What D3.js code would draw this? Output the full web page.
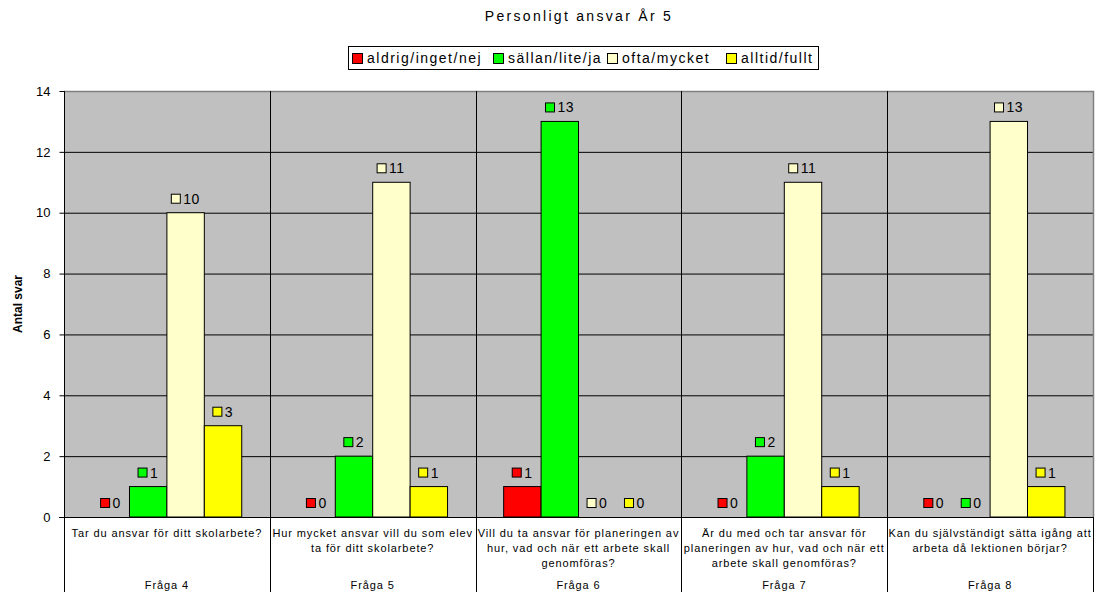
<!DOCTYPE html>
<html><head><meta charset="utf-8">
<script src="https://cdn.jsdelivr.net/npm/d3@7/dist/d3.min.js"></script>
<style>body{margin:0;background:#fff;}svg{display:block;font-family:"Liberation Sans",Arial,sans-serif;}</style>
</head><body><svg id="c" width="1096" height="592"></svg>
<script>
const title = "Personligt ansvar År 5";
const yTitle = "Antal svar";
const categories = ["Fråga 4","Fråga 5","Fråga 6","Fråga 7","Fråga 8"];
const questions = [
  ["Tar du ansvar för ditt skolarbete?"],
  ["Hur mycket ansvar vill du som elev","ta för ditt skolarbete?"],
  ["Vill du ta ansvar för planeringen av","hur, vad och när ett arbete skall","genomföras?"],
  ["Är du med och tar ansvar för","planeringen av hur, vad och när ett","arbete skall genomföras?"],
  ["Kan du självständigt sätta igång att","arbeta då lektionen börjar?"]
];
const seriesNames = ["aldrig/inget/nej","sällan/lite/ja","ofta/mycket","alltid/fullt"];
const seriesColors = ["#ff0000","#00ff00","#ffffcc","#ffff00"];
const aldrig = [0,0,1,0,0];
const sallan = [1,2,13,2,0];
const ofta = [10,11,0,11,13];
const alltid = [3,1,0,1,1];
const yTicks = [0,2,4,6,8,10,12,14];

const values = [aldrig,sallan,ofta,alltid];
const svg = d3.select("#c");
const L=64, R=1093, T=91, B=517;

const x0 = d3.scaleBand().domain(categories).range([L,R]);
const innerPad = x0.bandwidth()*(1.5/5.5)/2;
const x1 = d3.scaleBand().domain(seriesNames).range([innerPad, x0.bandwidth()-innerPad]);
const y = d3.scaleLinear().domain([0,14]).range([B,T]);

// plot bg
svg.append("rect").attr("x",L).attr("y",T).attr("width",R-L).attr("height",B-T).attr("fill","#c0c0c0");
// gridlines
svg.append("g").selectAll("line").data(yTicks.filter(d=>d>0&&d<14)).join("line")
  .attr("x1",L).attr("x2",R).attr("y1",d=>y(d)+0.5).attr("y2",d=>y(d)+0.5).attr("stroke","#000").attr("stroke-width",1);
// border top/right gray
svg.append("path").attr("d",`M${L},${T+0.5}H${R+0.5}V${B}`).attr("fill","none").attr("stroke","#808080").attr("stroke-width",1.5);
// vertical category separators
svg.append("g").selectAll("line").data(categories.slice(1)).join("line")
  .attr("x1",d=>Math.round(x0(d))+0.5).attr("x2",d=>Math.round(x0(d))+0.5).attr("y1",T).attr("y2",592)
  .attr("stroke","#000");
svg.append("line").attr("x1",R+0.5).attr("x2",R+0.5).attr("y1",B).attr("y2",592).attr("stroke","#000");

// bars
const flat=[];
categories.forEach((c,i)=>seriesNames.forEach((s,j)=>flat.push({c,s,j,v:values[j][i]})));
svg.append("g").selectAll("rect").data(flat.filter(d=>d.v>0)).join("rect")
  .attr("x",d=>x0(d.c)+x1(d.s)).attr("width",x1.bandwidth())
  .attr("y",d=>y(d.v)).attr("height",d=>B-y(d.v))
  .attr("fill",d=>seriesColors[d.j]).attr("stroke","#000").attr("stroke-width",1);

// data labels
const lg = svg.append("g").selectAll("g").data(flat).join("g")
  .attr("transform",d=>`translate(${x0(d.c)+x1(d.s)+x1.bandwidth()/2},${y(d.v)-14})`);
lg.each(function(d){
  const g=d3.select(this);
  const t=String(d.v);
  const tw = t.length*8.3;
  const w = 9+3+tw;
  g.append("rect").attr("x",-w/2).attr("y",-4.5).attr("width",9).attr("height",9)
    .attr("fill",seriesColors[d.j]).attr("stroke","#000").attr("stroke-width",1);
  g.append("text").attr("x",-w/2+12).attr("y",5).attr("font-size",14).attr("letter-spacing",0.5).attr("fill","#000").text(t);
});

// axes
svg.append("line").attr("x1",L+0.5).attr("x2",L+0.5).attr("y1",T).attr("y2",592).attr("stroke","#000");
svg.append("line").attr("x1",L-5).attr("x2",R).attr("y1",B+0.5).attr("y2",B+0.5).attr("stroke","#000");
const yAxis = svg.append("g").attr("transform",`translate(${L+0.5},0)`)
  .call(d3.axisLeft(y).tickValues(yTicks).tickSize(5).tickFormat(d3.format("d")));
yAxis.select(".domain").remove();
yAxis.selectAll("line").attr("stroke","#000");
yAxis.selectAll("text").attr("font-size",13).attr("font-family","Liberation Sans, Arial").attr("fill","#000").attr("dx",-6);

svg.append("text").attr("transform",`translate(22,${(T+B)/2}) rotate(-90)`).attr("text-anchor","middle")
  .attr("font-size",12).attr("font-weight","bold").text(yTitle);

// category labels
categories.forEach((c,i)=>{
  const cx = x0(c)+x0.bandwidth()/2;
  questions[i].forEach((ln,k)=>{
    svg.append("text").attr("x",cx).attr("y",537+k*15).attr("text-anchor","middle")
      .attr("font-size",11).attr("letter-spacing",0.9).attr("fill","#000").text(ln);
  });
  svg.append("text").attr("x",cx).attr("y",589).attr("text-anchor","middle")
    .attr("font-size",11).attr("letter-spacing",0.9).attr("fill","#000").text(c);
});

// title
svg.append("text").attr("x",579).attr("y",21).attr("text-anchor","middle")
  .attr("font-size",14).attr("letter-spacing",2.3).attr("fill","#000").text(title);

// legend
const legX=348, legY=46, legW=470, legH=23;
svg.append("rect").attr("x",legX+0.5).attr("y",legY+0.5).attr("width",legW).attr("height",legH).attr("fill","#fff").attr("stroke","#000");
const legPos=[352,493,607,726];
seriesNames.forEach((s,j)=>{
  svg.append("rect").attr("x",legPos[j]+0.5).attr("y",legY+7.5).attr("width",10).attr("height",10)
    .attr("fill",seriesColors[j]).attr("stroke","#000");
  svg.append("text").attr("x",legPos[j]+15).attr("y",legY+17).attr("font-size",14).attr("letter-spacing",1.5).text(s);
});
</script></body></html>
